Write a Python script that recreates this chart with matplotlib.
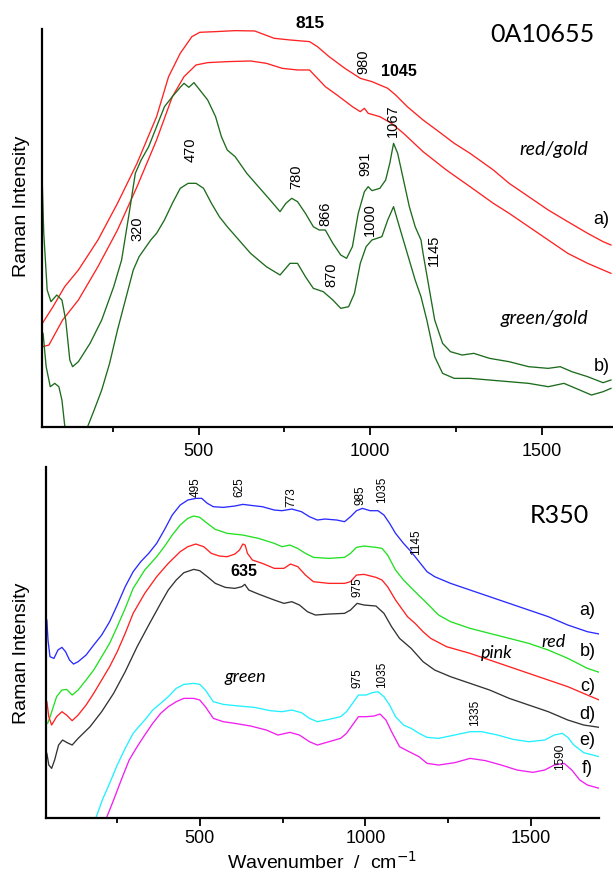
import matplotlib
matplotlib.use("Agg")
import matplotlib.pyplot as plt
from matplotlib.ticker import FixedLocator

plt.rcParams['font.family'] = ['Liberation Sans', 'DejaVu Sans']

# ---- top panel (0A10655), intensity in arbitrary units ----
red_a_x = [44, 75, 109, 149, 206, 263, 320, 377, 412, 446, 480, 503, 549, 606, 663, 720, 766, 823,
           846, 880, 926, 971, 1005, 1051, 1074, 1108, 1154, 1200, 1245, 1291, 1359, 1405, 1462,
           1519, 1576, 1634, 1679, 1702]
red_a_y = [310, 360, 420, 470, 560, 670, 790, 930, 1050, 1120, 1170, 1183, 1185, 1188, 1187, 1165,
           1160, 1155, 1140, 1110, 1075, 1045, 1035, 1015, 995, 960, 920, 885, 850, 820, 770, 730,
           690, 650, 615, 580, 555, 545]

red_b_x = [44, 63, 103, 149, 206, 263, 320, 377, 423, 457, 492, 526, 583, 651, 697, 743, 788, 823,
           846, 869, 903, 948, 971, 983, 994, 1028, 1062, 1097, 1154, 1222, 1291, 1359, 1405, 1462,
           1519, 1576, 1634, 1702]
red_b_y = [240, 245, 320, 380, 480, 590, 720, 860, 990, 1050, 1085, 1092, 1095, 1097, 1090, 1075,
           1070, 1070, 1045, 1020, 995, 960, 945, 955, 940, 930, 910, 880, 825, 770, 720, 670, 640,
           600, 560, 520, 490, 460]

green_a_x = [44, 48, 58, 69, 86, 101, 112, 124, 132, 149, 183, 217, 252, 275, 297, 315, 332, 354,
             377, 400, 423, 446, 457, 471, 486, 503, 526, 549, 566, 583, 606, 640, 674, 708, 737,
             754, 771, 788, 811, 834, 851, 869, 891, 914, 931, 948, 965, 983, 994, 1005, 1028,
             1045, 1057, 1068, 1080, 1097, 1114, 1131, 1148, 1154, 1171, 1188, 1211, 1234, 1268,
             1302, 1348, 1405, 1462, 1519, 1554, 1588, 1634, 1679, 1702]
green_a_y = [720, 580, 410, 375, 395, 380, 320, 200, 180, 195, 250, 320, 420, 500, 640, 760, 800,
             840, 900, 960, 990, 1018, 1030, 1018, 1032, 1010, 980, 930, 870, 830, 810, 760, 720,
             680, 645, 670, 685, 675, 640, 600, 590, 590, 550, 515, 505, 540, 640, 705, 720, 708,
             715, 740, 790, 850, 820, 740, 660, 600, 560, 520, 420, 320, 250, 225, 215, 220, 205,
             195, 180, 175, 180, 165, 150, 132, 140]

green_b1_x = [46, 55, 67, 80, 92, 101, 110]
green_b1_y = [280, 180, 120, 130, 120, 80, -5]
green_b_x = [174, 195, 217, 240, 263, 286, 309, 326, 343, 360, 377, 400, 423, 446, 469, 492, 514,
             537, 560, 583, 617, 651, 697, 737, 766, 788, 811, 834, 863, 891, 914, 937, 954, 971,
             988, 1005, 1034, 1051, 1068, 1085, 1108, 1131, 1148, 1165, 1188, 1211, 1245, 1291,
             1348, 1405, 1462, 1519, 1565, 1611, 1645, 1679, 1702]
green_b_y = [-5, 50, 110, 190, 290, 380, 470, 510, 535, 560, 580, 620, 670, 715, 730, 730, 715,
             670, 630, 600, 560, 520, 480, 455, 490, 490, 450, 415, 405, 380, 355, 360, 400, 490,
             540, 560, 570, 620, 660, 600, 520, 440, 390, 320, 210, 160, 145, 145, 140, 135, 130,
             120, 130, 110, 95, 105, 115]

# ---- bottom panel (R350) ----
blue_x = [38.6, 42, 48, 60, 72, 84, 95, 107, 119, 133, 157, 180, 204, 228, 251, 275, 299, 322, 346,
          370, 393, 417, 441, 464, 488, 506, 523, 541, 571, 606, 630, 654, 689, 725, 748, 778, 807,
          831, 855, 878, 914, 937, 955, 973, 991, 1014, 1038, 1056, 1073, 1091, 1115, 1138, 1162,
          1186, 1209, 1257, 1316, 1375, 1434, 1493, 1552, 1611, 1670, 1706]
blue_y = [593, 533, 483, 478, 503, 511, 498, 473, 461, 468, 488, 518, 548, 588, 638, 693, 738, 768,
          793, 823, 863, 908, 938, 953, 958, 958, 943, 933, 931, 935, 940, 937, 933, 923, 921, 926,
          918, 903, 893, 896, 893, 888, 903, 921, 928, 921, 921, 908, 883, 853, 823, 798, 768, 738,
          723, 703, 683, 663, 643, 623, 603, 578, 558, 551]

lime_x = [41, 50, 68, 84, 98, 115, 133, 157, 180, 204, 228, 251, 275, 299, 334, 370, 393, 417, 441,
          464, 482, 500, 523, 547, 583, 630, 677, 725, 748, 772, 795, 819, 843, 890, 937, 955, 973,
          996, 1032, 1050, 1067, 1091, 1115, 1150, 1186, 1221, 1257, 1316, 1375, 1434, 1493, 1552,
          1611, 1670, 1706]
lime_y = [283, 308, 363, 383, 385, 368, 383, 413, 443, 483, 523, 573, 628, 688, 743, 783, 813, 848,
          878, 898, 905, 901, 883, 865, 853, 848, 838, 823, 813, 818, 808, 793, 781, 778, 781, 793,
          811, 815, 811, 808, 788, 743, 713, 678, 643, 608, 588, 568, 553, 538, 523, 503, 478, 448,
          436]

red_x = [38.6, 44.5, 53, 68, 84, 98, 115, 133, 157, 180, 204, 228, 251, 275, 299, 334, 370, 405,
         441, 464, 488, 512, 535, 559, 583, 606, 620, 630, 637, 644, 659, 689, 725, 754, 774, 796,
         819, 843, 890, 937, 955, 973, 996, 1032, 1050, 1067, 1091, 1127, 1150, 1174, 1197, 1245,
         1316, 1375, 1434, 1493, 1552, 1611, 1670, 1706]
red_y = [348, 303, 278, 303, 318, 308, 291, 308, 338, 373, 413, 453, 498, 553, 613, 673, 723, 763,
         798, 813, 821, 813, 793, 785, 783, 791, 803, 821, 818, 793, 773, 763, 748, 748, 761, 753,
         728, 708, 703, 703, 708, 728, 730, 721, 713, 693, 653, 603, 583, 558, 538, 513, 493, 473,
         453, 433, 413, 393, 368, 353]

black_x = [38.6, 44.5, 53, 62, 74, 86, 100, 115, 133, 169, 204, 240, 275, 311, 346, 382, 405, 429,
           452, 482, 500, 523, 547, 577, 606, 627, 636, 648, 677, 725, 754, 778, 801, 825, 849, 890,
           937, 955, 975, 996, 1032, 1056, 1079, 1103, 1138, 1174, 1209, 1257, 1316, 1375, 1434,
           1493, 1552, 1611, 1659, 1706]
black_y = [193, 158, 148, 173, 218, 233, 225, 218, 238, 273, 318, 373, 438, 513, 578, 643, 683, 713,
           735, 745, 741, 723, 703, 691, 688, 693, 700, 683, 671, 653, 643, 648, 638, 618, 608, 611,
           613, 623, 643, 638, 635, 613, 573, 538, 508, 468, 443, 423, 403, 383, 358, 338, 318, 293,
           278, 271]

cyan_x = [186, 206, 228, 251, 275, 299, 316, 334, 358, 382, 405, 429, 452, 482, 500, 517, 541, 571,
          618, 665, 713, 748, 778, 807, 831, 855, 890, 925, 943, 961, 979, 1002, 1020, 1038, 1056,
          1073, 1091, 1115, 1138, 1162, 1186, 1221, 1269, 1316, 1351, 1399, 1446, 1493, 1541, 1570,
          1594, 1611, 1629, 1659, 1706]
cyan_y = [-2, 53, 103, 158, 208, 253, 273, 293, 323, 343, 363, 388, 400, 403, 400, 383, 348, 340,
          335, 331, 321, 318, 323, 315, 298, 288, 295, 303, 318, 343, 368, 368, 375, 378, 363, 338,
          303, 278, 268, 253, 241, 238, 248, 258, 258, 248, 235, 228, 233, 248, 253, 241, 218, 195,
          183]

magenta_x = [218, 240, 263, 287, 311, 334, 358, 382, 405, 429, 452, 482, 500, 517, 541, 571, 606,
             654, 701, 736, 772, 801, 831, 855, 890, 925, 943, 961, 979, 1002, 1026, 1044, 1062,
             1079, 1103, 1132, 1162, 1186, 1221, 1269, 1316, 1363, 1410, 1458, 1505, 1541, 1570,
             1600, 1623, 1647, 1670, 1706]
magenta_y = [-2, 53, 113, 173, 213, 248, 283, 313, 333, 348, 358, 358, 353, 333, 298, 288, 283, 275,
             263, 248, 256, 248, 228, 218, 228, 238, 253, 278, 303, 303, 305, 311, 293, 258, 213,
             198, 183, 163, 158, 165, 178, 171, 158, 143, 136, 143, 158, 163, 143, 113, 98, 88]

major_ticks = [500, 1000, 1500]
minor_ticks = [250, 750, 1250]

# peak labels: (text, wavenumber, intensity)
top_rot_labels = [("980", 980, 1095), ("1067", 1066, 917), ("470", 477, 830), ("320", 322, 595),
                  ("780", 784, 750), ("866", 868, 640), ("991", 985, 790), ("1000", 999, 620),
                  ("870", 887, 455), ("1145", 1186, 530)]
bot_rot_labels = [("495", 488, 993), ("625", 620, 993), ("773", 778, 963), ("985", 985, 968),
                  ("1035", 1050, 983), ("1145", 1153, 828), ("975", 975, 693), ("975", 975, 418),
                  ("1035", 1050, 428), ("1335", 1331, 313), ("1590", 1588, 183)]

W, H = 613, 872
fig = plt.figure(figsize=(W / 100, H / 100), dpi=100)
ax1 = fig.add_axes([41.7 / W, (H - 426.7) / H, 570.3 / W, 397.4 / H])
ax2 = fig.add_axes([46 / W, (H - 817.7) / H, 553 / W, 351 / H])

TOP_RED = '#ff2222'
DARK_GREEN = '#1d6b1d'
lw = 0.95

ax1.plot(red_a_x, red_a_y, color=TOP_RED, lw=lw)
ax1.plot(red_b_x, red_b_y, color=TOP_RED, lw=lw)
ax1.plot(green_a_x, green_a_y, color=DARK_GREEN, lw=lw)
ax1.plot(green_b1_x, green_b1_y, color=DARK_GREEN, lw=lw)
ax1.plot(green_b_x, green_b_y, color=DARK_GREEN, lw=lw)

ax2.plot(blue_x, blue_y, color='#2b2bff', lw=lw)
ax2.plot(lime_x, lime_y, color='#22e022', lw=lw)
ax2.plot(red_x, red_y, color='#ff2222', lw=lw)
ax2.plot(black_x, black_y, color='#333333', lw=lw)
ax2.plot(cyan_x, cyan_y, color='#22f0ff', lw=lw)
ax2.plot(magenta_x, magenta_y, color='#f020f0', lw=lw)

ax1.set_xlim(42, 1705)
ax1.set_ylim(0, 1192)
ax2.set_xlim(36, 1705)
ax2.set_ylim(0, 1053)

for ax, pad in ((ax1, 6.5), (ax2, 3.5)):
    for s in ('top', 'right'):
        ax.spines[s].set_visible(False)
    for s in ('left', 'bottom'):
        ax.spines[s].set_linewidth(1.6)
    ax.xaxis.set_major_locator(FixedLocator(major_ticks))
    ax.xaxis.set_minor_locator(FixedLocator(minor_ticks))
    ax.set_yticks([])
    ax.tick_params(axis='x', which='major', direction='out', length=5.5, width=1.3,
                   labelsize=13, pad=pad)
    ax.tick_params(axis='x', which='minor', direction='out', length=3.5, width=1.3)

# axis titles
fig.text(22 / W, 1 - 206 / H, 'Raman Intensity', rotation=90, ha='center', va='center',
         fontsize=14)
fig.text(22 / W, 1 - 653 / H, 'Raman Intensity', rotation=90, ha='center', va='center',
         fontsize=14)
fig.text(322 / W, 1 - 862 / H, 'Wavenumber  /  cm$^{-1}$', ha='center', va='center',
         fontsize=14)

CAL = ['Lato', 'DejaVu Sans']

# top panel texts
ax1.text(824, 1208, '815', fontsize=12.5, fontweight='bold', ha='center', va='center')
ax1.text(1084, 1065, '1045', fontsize=11.5, fontweight='bold', ha='center', va='center')
for t, x, y in top_rot_labels:
    ax1.text(x, y, t, fontsize=10.5, rotation=90, ha='center', va='center')
ax1.text(1502, 1177, '0A10655', fontsize=18, family=CAL, ha='center', va='center')
ax1.text(1536, 830, 'red/gold', fontsize=14, style='italic', family=CAL, ha='center',
         va='center')
ax1.text(1508, 325, 'green/gold', fontsize=14, style='italic', family=CAL, ha='center',
         va='center')
ax1.text(1675, 620, 'a)', fontsize=13, ha='center', va='center')
ax1.text(1675, 180, 'b)', fontsize=13, ha='center', va='center')

# bottom panel texts
for t, x, y in bot_rot_labels:
    ax2.text(x, y, t, fontsize=8.5, rotation=90, ha='center', va='center')
ax2.text(632, 740, '635', fontsize=11.5, fontweight='bold', ha='center', va='center')
ax2.text(1585, 908, 'R350', fontsize=18, family=CAL, ha='center', va='center')
ax2.text(1567, 528, 'red', fontsize=13, style='italic', family=CAL, ha='center', va='center')
ax2.text(1396, 493, 'pink', fontsize=13, style='italic', family=CAL, ha='center', va='center')
ax2.text(639, 423, 'green', fontsize=13, style='italic', family=CAL, ha='center', va='center')
for lab, y in zip(['a)', 'b)', 'c)', 'd)', 'e)', 'f)'], [623, 500, 393, 311, 233, 148]):
    ax2.text(1670, y, lab, fontsize=13, ha='center', va='center')

fig.savefig('out.png', dpi=100)
